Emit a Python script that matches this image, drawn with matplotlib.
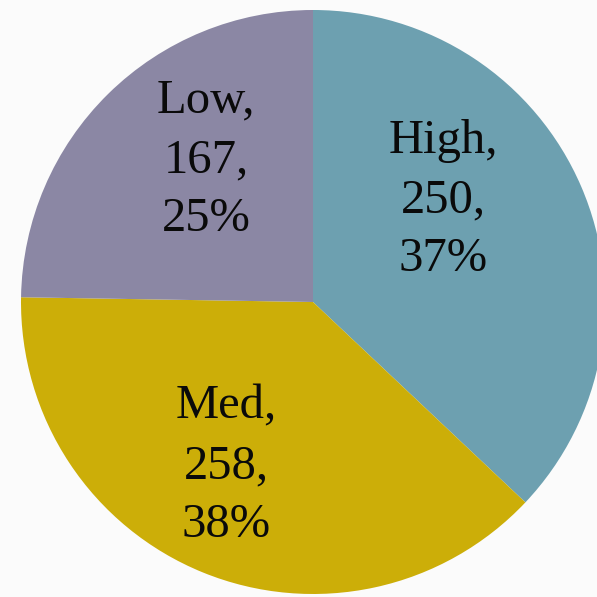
import matplotlib
matplotlib.use("Agg")
import matplotlib.pyplot as plt

categories = ["High", "Med", "Low"]
values = [250, 258, 167]
colors = ["#6DA0B0", "#CCAE08", "#8B87A4"]
# label anchor positions in pixel coords (x, y from top)
label_pos = [(443, 200), (226, 466), (206, 160)]

W = H = 597
fig = plt.figure(figsize=(W / 100, H / 100), dpi=100, facecolor="#FBFBFB")
ax = fig.add_axes([0, 0, 1, 1])
ax.set_facecolor("#FBFBFB")

cx, cy, r = 313, H - 302, 292
ax.pie(values, colors=colors, startangle=90, counterclock=False,
       center=(cx, cy), radius=r, frame=True,
       wedgeprops=dict(linewidth=0))
ax.set_xlim(0, W)
ax.set_ylim(0, H)
ax.set_aspect("equal")
ax.axis("off")

total = sum(values)
for cat, v, (px, py) in zip(categories, values, label_pos):
    pct = round(100 * v / total)
    ax.text(px, H - py, f"{cat},\n{v},\n{pct}%", ha="center", va="center",
            fontsize=35, family="Liberation Serif", color="#0A0A0A",
            linespacing=1.45)

fig.savefig("out.png", dpi=100, facecolor=fig.get_facecolor())
